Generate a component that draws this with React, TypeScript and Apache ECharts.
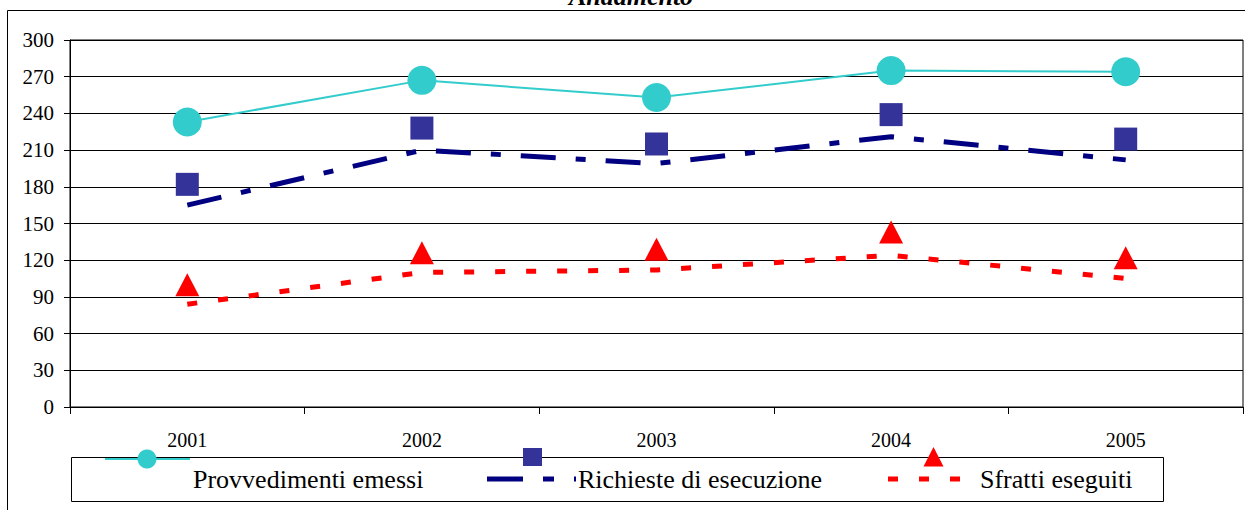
import React, { useEffect, useRef } from "react";
import * as echarts from "echarts";

const years = ["2001", "2002", "2003", "2004", "2005"];
const yTicks = { min: 0, max: 300, interval: 30 };

const provvedimenti = [233, 267, 253, 275, 274];
const richiesteLine = [165, 210, 199, 221, 202];
const richiesteMarkers = [182, 228, 215, 239, 219];
const sfrattiLine = [84, 110, 112, 124, 105];
const sfrattiMarkers = [100, 126, 129, 143, 122];

const seriesNames = ["Provvedimenti emessi", "Richieste di esecuzione", "Sfratti eseguiti"];
const titleText = "Andamento";

const FONT = "Times New Roman";
const CYAN = "#33CCCC";
const NAVY = "#000080";
const NAVY_MARK = "#333399";
const RED = "#FF0000";

export default function App() {
  const ref = useRef<HTMLDivElement>(null);

  useEffect(() => {
    if (!ref.current) return;
    const chart = echarts.init(ref.current, undefined, { renderer: "svg" });

    const legendY = 479;
    const markY = 457;

    const legendText = (x: number, text: string) => ({
      type: "text",
      x,
      y: legendY,
      style: {
        text,
        font: "normal 26px 'Liberation Serif', serif",
        fill: "#000",
        verticalAlign: "middle",
      },
      z: 11,
    });

    const option: any = {
      animation: false,
      backgroundColor: "#fff",
      textStyle: { fontFamily: FONT },
      grid: {
        left: 70,
        top: 40,
        right: 2,
        bottom: 103,
        show: true,
        borderColor: "#000",
        borderWidth: 1,
        containLabel: false,
      },
      xAxis: {
        type: "category",
        data: years,
        boundaryGap: true,
        axisLine: { show: true, lineStyle: { color: "#000", width: 1 } },
        axisTick: { show: true, length: 7, lineStyle: { color: "#000" } },
        axisLabel: { color: "#000", fontFamily: "serif", fontSize: 20, margin: 23 },
        splitLine: { show: false },
      },
      yAxis: {
        type: "value",
        min: yTicks.min,
        max: yTicks.max,
        interval: yTicks.interval,
        axisLine: { show: true, lineStyle: { color: "#000", width: 1 } },
        axisTick: { show: true, length: 6, lineStyle: { color: "#000" } },
        axisLabel: { color: "#000", fontFamily: FONT, fontSize: 21, margin: 16 },
        splitLine: { show: true, lineStyle: { color: "#000", width: 1 } },
      },
      series: [
        {
          name: seriesNames[0],
          type: "line",
          data: provvedimenti,
          symbol: "circle",
          symbolSize: 29,
          itemStyle: { color: CYAN, opacity: 1 },
          lineStyle: { color: CYAN, width: 2 },
          z: 5,
        },
        {
          name: seriesNames[1],
          type: "line",
          data: richiesteLine,
          symbol: "none",
          lineStyle: { color: NAVY, width: 5, type: [35, 20, 10, 20], cap: "butt" },
          z: 3,
        },
        {
          name: seriesNames[1] + " marker",
          type: "scatter",
          data: richiesteMarkers,
          symbol: "rect",
          symbolSize: 23,
          itemStyle: { color: NAVY_MARK, opacity: 1 },
          z: 4,
        },
        {
          name: seriesNames[2],
          type: "line",
          data: sfrattiLine,
          symbol: "none",
          lineStyle: { color: RED, width: 5, type: [10, 21], cap: "butt" },
          z: 3,
        },
        {
          name: seriesNames[2] + " marker",
          type: "scatter",
          data: sfrattiMarkers,
          symbol: "triangle",
          symbolSize: [24, 23],
          itemStyle: { color: RED, opacity: 1 },
          z: 4,
        },
      ],
      graphic: [
        {
          type: "rect",
          shape: { x: 7.5, y: 10.5, width: 1260, height: 520 },
          style: { fill: "none", stroke: "#000", lineWidth: 1 },
          silent: true,
          z: 0,
        },
        {
          type: "text",
          x: 631,
          y: 9,
          style: {
            text: titleText,
            font: "italic bold 26px 'Liberation Serif', serif",
            fill: "#000",
            align: "center",
            verticalAlign: "bottom",
          },
        },
        {
          type: "rect",
          shape: { x: 71.5, y: 457.5, width: 1092, height: 44 },
          style: { fill: "#fff", stroke: "#000", lineWidth: 1 },
          z: 10,
        },
        {
          type: "line",
          shape: { x1: 105, y1: 459, x2: 190, y2: 459 },
          style: { stroke: CYAN, lineWidth: 2 },
          z: 11,
        },
        {
          type: "circle",
          shape: { cx: 147, cy: 459, r: 9.5 },
          style: { fill: CYAN },
          z: 12,
        },
        legendText(193, seriesNames[0]),
        {
          type: "line",
          shape: { x1: 487, y1: legendY, x2: 576, y2: legendY },
          style: { stroke: NAVY, lineWidth: 5, lineDash: [36, 20, 11, 20] },
          z: 11,
        },
        {
          type: "rect",
          shape: { x: 523, y: 448, width: 19, height: 18 },
          style: { fill: NAVY_MARK },
          z: 12,
        },
        legendText(578, seriesNames[1]),
        {
          type: "line",
          shape: { x1: 888, y1: legendY, x2: 960, y2: legendY },
          style: { stroke: RED, lineWidth: 5, lineDash: [10, 21] },
          z: 11,
        },
        {
          type: "polygon",
          shape: { points: [[933.5, markY - 10], [943.5, markY + 9.5], [923.5, markY + 9.5]] },
          style: { fill: RED },
          z: 12,
        },
        legendText(980, seriesNames[2]),
      ],
    };

    chart.setOption(option);
    return () => chart.dispose();
  }, []);

  return (
    <div
      ref={ref}
      style={{ position: "fixed", left: 0, top: 0, width: 1245, height: 510, background: "#fff" }}
    />
  );
}
